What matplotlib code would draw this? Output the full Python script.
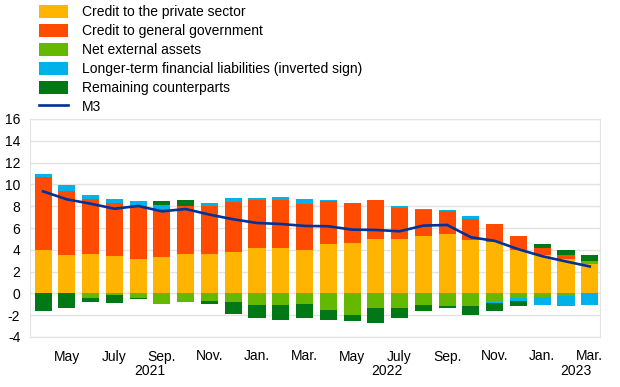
import matplotlib
matplotlib.use('Agg')
import matplotlib.pyplot as plt
import numpy as np

plt.rcParams['font.family'] = ['Liberation Sans', 'DejaVu Sans']

# Apr 2021 .. Mar 2023
months = ['Apr', 'May', 'Jun', 'Jul', 'Aug', 'Sep', 'Oct', 'Nov', 'Dec',
          'Jan', 'Feb', 'Mar', 'Apr', 'May', 'Jun', 'Jul', 'Aug', 'Sep',
          'Oct', 'Nov', 'Dec', 'Jan', 'Feb', 'Mar']
tick_labels = ['May', 'July', 'Sep.', 'Nov.', 'Jan.', 'Mar.',
               'May', 'July', 'Sep.', 'Nov.', 'Jan.', 'Mar.']
years = ['2021', '2022', '2023']

private = [4.02, 3.5, 3.57, 3.4, 3.17, 3.35, 3.63, 3.65, 3.8, 4.12, 4.18, 4.02,
           4.54, 4.63, 5.03, 4.95, 5.3, 5.43, 4.88, 4.76, 4.02, 3.56, 3.17, 2.67]
government = [6.7, 5.88, 5.13, 4.9, 4.83, 4.4, 4.4, 4.4, 4.62, 4.45, 4.39, 4.18,
              3.94, 3.7, 3.5, 2.93, 2.35, 2.1, 1.95, 1.61, 1.24, 0.62, 0.32, 0.0]
net_external = [0.0, 0.0, -0.45, -0.18, -0.4, -0.95, -0.8, -0.7, -0.78, -1.02, -1.05, -0.97,
                -1.55, -1.98, -1.33, -1.38, -1.1, -1.14, -1.14, -0.75, -0.4, -0.37, -0.24, 0.28]
longer_term = [0.2, 0.52, 0.33, 0.35, 0.5, 0.4, 0.0, 0.26, 0.32, 0.18, 0.3, 0.44,
               0.09, 0.0, 0.08, 0.1, 0.13, 0.09, 0.23, -0.12, -0.33, -0.66, -0.92, -1.1]
remaining = [-1.6, -1.35, -0.3, -0.73, -0.15, 0.35, 0.55, -0.28, -1.08, -1.2, -1.38, -1.32,
             -0.9, -0.59, -1.43, -0.85, -0.5, -0.24, -0.85, -0.7, -0.45, 0.31, 0.53, 0.6]
m3 = [9.36, 8.63, 8.23, 7.77, 8.02, 7.53, 7.74, 7.23, 6.8, 6.46, 6.37, 6.19,
      6.16, 5.85, 5.82, 5.7, 6.22, 6.28, 5.15, 4.82, 4.05, 3.41, 2.93, 2.47]

series = [
    (private, 'Credit to the private sector', '#FFB400'),
    (government, 'Credit to general government', '#FF4B00'),
    (net_external, 'Net external assets', '#65B800'),
    (longer_term, 'Longer-term financial liabilities (inverted sign)', '#00B1EA'),
    (remaining, 'Remaining counterparts', '#007816'),
]

fig = plt.figure(figsize=(6.2, 3.87), dpi=100)
ax = fig.add_axes([30 / 620, 50 / 387, 570 / 620, 218 / 387])

x = np.arange(len(months))
pos_base = np.zeros(len(months))
neg_base = np.zeros(len(months))
handles = []
for vals, label, color in series:
    v = np.array(vals)
    bottom = np.where(v >= 0, pos_base, neg_base)
    b = ax.bar(x, v, width=0.72, bottom=bottom, color=color, label=label,
               edgecolor='none', zorder=2)
    handles.append(b)
    pos_base += np.where(v >= 0, v, 0)
    neg_base += np.where(v < 0, v, 0)

ln, = ax.plot(x, m3, color='#003299', lw=1.9, label='M3', zorder=3)
handles.append(ln)

ax.set_xlim(-0.55, 23.43)
ax.set_ylim(-4, 16)
ax.set_yticks(np.arange(-4, 17, 2))
ax.set_yticklabels([str(v) for v in range(-4, 17, 2)], fontsize=10)
ax.grid(axis='y', color='#e3e3e3', lw=1, zorder=0)
ax.set_axisbelow(True)
for s in ax.spines.values():
    s.set_color('#e3e3e3')
ax.tick_params(axis='y', length=0, pad=7)
ax.tick_params(axis='x', length=0, pad=9)
ax.set_xticks(x[1::2])
ax.set_xticklabels(tick_labels, fontsize=10)

for yr, xpos in zip(years, [4.5, 14.45, 22.4]):
    ax.text(xpos, -0.125, yr, transform=ax.get_xaxis_transform(),
            ha='center', va='top', fontsize=10)

fig.legend(handles, [h.get_label() for h in handles], loc='upper left',
           bbox_to_anchor=(39 / 620, 1 - 5 / 387),
           frameon=False, fontsize=10, handlelength=2.09, handleheight=1.08,
           handletextpad=1.0, labelspacing=0.33, borderpad=0, borderaxespad=0)

fig.savefig('out.png', dpi=100, facecolor='white')
